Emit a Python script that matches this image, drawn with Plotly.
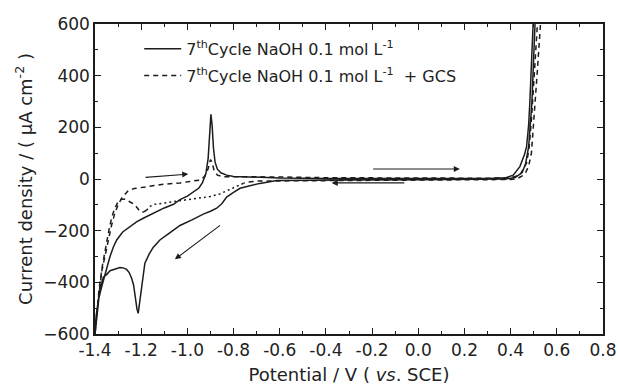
import plotly.graph_objects as go

# ---- data ----
naoh_x = [-1.400, -1.392, -1.383, -1.372, -1.364, -1.350, -1.335, -1.320, -1.306, -1.280,
          -1.248, -1.220, -1.191, -1.160, -1.133, -1.100, -1.060, -1.032, -1.000, -0.974,
          -0.950, -0.935, -0.920, -0.910, -0.903, -0.898, -0.893, -0.887, -0.880, -0.870,
          -0.855, -0.830, -0.800, -0.700, -0.600, -0.400, 0.000, 0.300, 0.380, 0.411,
          0.440, 0.460, 0.469, 0.478, 0.483, 0.490, 0.498, 0.502,
          0.510, 0.505, 0.492, 0.478, 0.465, 0.450, 0.420, 0.380, 0.200, 0.000,
          -0.300, -0.500, -0.613, -0.686, -0.740, -0.772, -0.800, -0.830, -0.850, -0.873,
          -0.900, -0.931, -0.980, -1.032, -1.075, -1.119, -1.148, -1.165, -1.184, -1.192,
          -1.198, -1.206, -1.213, -1.218, -1.225, -1.233, -1.241, -1.252, -1.263, -1.278,
          -1.292, -1.310, -1.335, -1.350, -1.364, -1.378, -1.388, -1.395, -1.400]
naoh_y = [-600, -520, -460, -420, -395, -345, -300, -262, -236, -205,
          -184, -166, -152, -138, -126, -112, -98, -80, -66, -50,
          -35, -15, 20, 80, 170, 250, 210, 120, 65, 38,
          24, 15, 10, 6, 4, 2, 1, 2, 5, 15,
          48, 95, 125, 210, 294, 450, 602, 700,
          700, 602, 294, 125, 60, 25, 6, 0, -2, -3,
          -4, -5, -6, -17, -28, -36, -52, -70, -95, -113,
          -125, -136, -158, -180, -208, -236, -265, -290, -326, -380,
          -441, -490, -520, -505, -450, -410, -385, -362, -350, -344,
          -343, -348, -355, -370, -380, -425, -480, -530, -600]

gcs_x = [-1.400, -1.393, -1.386, -1.378, -1.371, -1.357, -1.342, -1.328, -1.315, -1.300,
         -1.285, -1.270, -1.256, -1.230, -1.176, -1.100, -1.032, -0.980, -0.945, -0.925,
         -0.910, -0.900, -0.893, -0.885, -0.870, -0.844, -0.716, -0.613, -0.400, 0.000,
         0.300, 0.400, 0.440, 0.469, 0.480, 0.490, 0.498, 0.505, 0.512, 0.519, 0.523,
         0.532, 0.529, 0.516, 0.502, 0.490, 0.478, 0.465, 0.450, 0.430, 0.400, 0.200,
         -0.200, -0.600, -0.700, -0.740, -0.758]
gcs_y = [-600, -520, -468, -410, -358, -300, -236, -178, -135, -100,
         -75, -60, -45, -37, -30, -20, -15, -8, -4, 10,
         40, 75, 65, 35, 15, 9, 9, 8, 5, 3,
         3, 5, 15, 62, 120, 228, 330, 422, 510, 596, 700,
         700, 596, 422, 228, 100, 50, 25, 12, 2, -2, -3,
         -5, -6, -8, -12, -17]

gcs_dot_x = [-0.758, -0.790, -0.816, -0.860, -0.902, -0.950, -1.000, -1.061, -1.105, -1.140, -1.160, -1.176]
gcs_dot_y = [-17, -30, -43, -58, -68, -75, -80, -88, -92, -98, -105, -120]

gcs_tail_x = [-1.176, -1.190, -1.205, -1.227, -1.250, -1.270, -1.285, -1.300, -1.315, -1.328,
              -1.340, -1.355, -1.368, -1.383, -1.393, -1.400]
gcs_tail_y = [-120, -128, -126, -100, -88, -78, -78, -88, -115, -150,
              -200, -265, -335, -430, -520, -600]

# arrows: (tail_x, tail_y, head_x, head_y)
arrows = [(-1.188, 6, -0.996, 19),
          (-0.202, 39, 0.180, 39),
          (-0.054, -15, -0.375, -15),
          (-0.852, -175, -1.054, -311)]

x_ticks = [-1.4, -1.2, -1.0, -0.8, -0.6, -0.4, -0.2, 0.0, 0.2, 0.4, 0.6, 0.8]
x_ticktext = ["-1.4", "-1.2", "-1.0", "-0.8", "-0.6", "-0.4", "-0.2", "0.0", "0.2", "0.4", "0.6", "0.8"]
y_ticks = [-600, -400, -200, 0, 200, 400, 600]

label_naoh = "7<sup>th</sup>Cycle NaOH 0.1 mol L<sup>-1</sup>"
label_gcs = "7<sup>th</sup>Cycle NaOH 0.1 mol L<sup>-1</sup>  + GCS"

LC = "#1c1c1c"
TC = "#222222"
FONT = "DejaVu Sans, Arial, sans-serif"

fig = go.Figure()
fig.add_trace(go.Scatter(x=naoh_x, y=naoh_y, mode="lines", name=label_naoh,
                         line=dict(color=LC, width=1.5), legendgroup="a"))
fig.add_trace(go.Scatter(x=gcs_x, y=gcs_y, mode="lines", name=label_gcs,
                         line=dict(color=LC, width=1.5, dash="5px,4px"), legendgroup="b"))
fig.add_trace(go.Scatter(x=gcs_dot_x, y=gcs_dot_y, mode="lines", showlegend=False,
                         line=dict(color=LC, width=1.5, dash="2px,3px"), legendgroup="b"))
fig.add_trace(go.Scatter(x=gcs_tail_x, y=gcs_tail_y, mode="lines", showlegend=False,
                         line=dict(color=LC, width=1.5, dash="5px,4px"), legendgroup="b"))

for tx, ty, hx, hy in arrows:
    fig.add_annotation(x=hx, y=hy, ax=tx, ay=ty, xref="x", yref="y", axref="x", ayref="y",
                       showarrow=True, arrowhead=2, arrowsize=1.1, arrowwidth=1.1,
                       arrowcolor=LC, text="")

axis_common = dict(showline=True, linecolor=LC, linewidth=1.5, mirror="allticks",
                   ticks="inside", ticklen=6, tickwidth=1.2, tickcolor=LC,
                   showgrid=False, zeroline=False, automargin=False,
                   tickfont=dict(family=FONT, size=17, color=TC))

fig.update_xaxes(range=[-1.4, 0.8], tickvals=x_ticks, ticktext=x_ticktext,
                 minor=dict(dtick=0.1, tick0=-1.4, ticks="inside", ticklen=3, tickcolor=LC),
                 title=dict(text="Potential / V ( <i>vs</i>. SCE)", standoff=9,
                            font=dict(family=FONT, size=18, color=TC)),
                 **axis_common)
fig.update_yaxes(range=[-600, 600], tickvals=y_ticks,
                 minor=dict(dtick=100, tick0=-600, ticks="inside", ticklen=3, tickcolor=LC),
                 title=dict(text="Current density / ( \u03bcA cm<sup>-2</sup> )", standoff=6,
                            font=dict(family=FONT, size=18, color=TC)),
                 **axis_common)

fig.update_layout(
    width=618, height=390,
    margin=dict(l=95, r=15, t=24, b=56),
    plot_bgcolor="white", paper_bgcolor="white",
    font=dict(family=FONT, color=TC),
    legend=dict(x=0.087, y=0.975, xanchor="left", yanchor="top", itemwidth=37,
                bgcolor="rgba(0,0,0,0)", font=dict(family=FONT, size=16, color=TC),
                tracegroupgap=3),
)

fig.write_html("out.html")
